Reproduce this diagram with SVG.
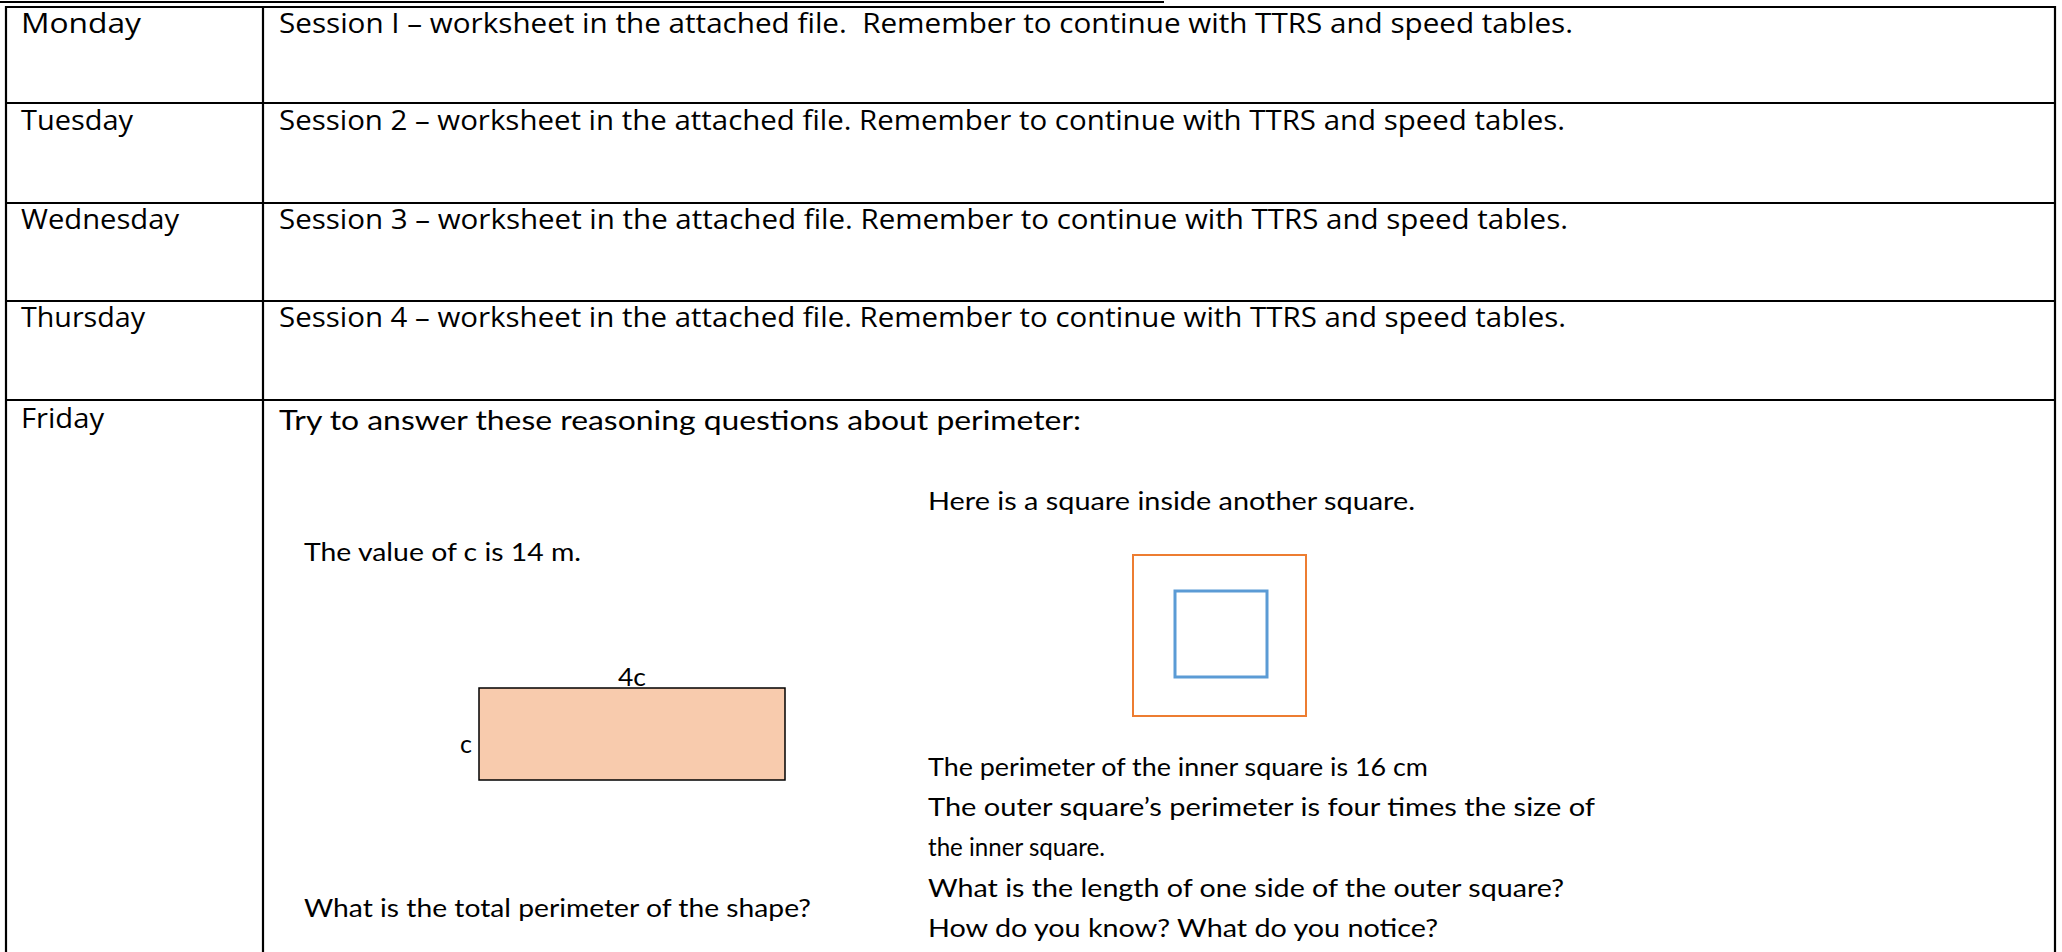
<svg xmlns="http://www.w3.org/2000/svg" width="2062" height="952" viewBox="0 0 2062 952">
<style>
.grid{stroke:#000;stroke-width:2.2;fill:none}
.t1{font-family:"Open Sans","Noto Sans",sans-serif;font-size:27px;fill:#000}
.t2{font-family:Lato,"Open Sans",sans-serif;font-size:26px;fill:#000}
.t3{font-family:Lato,"Open Sans",sans-serif;font-size:25px;fill:#000}
</style>
<rect width="2062" height="952" fill="#fff"/>
<g id="table">
<line class="grid" x1="0" y1="2" x2="1164" y2="2" stroke-width="3"/>
<line class="grid" x1="6" y1="7" x2="2056" y2="7"/>
<line class="grid" x1="6" y1="103" x2="2056" y2="103"/>
<line class="grid" x1="6" y1="203" x2="2056" y2="203"/>
<line class="grid" x1="6" y1="301" x2="2056" y2="301"/>
<line class="grid" x1="6" y1="400" x2="2056" y2="400"/>
<line class="grid" x1="6" y1="6" x2="6" y2="952"/>
<line class="grid" x1="263" y1="6" x2="263" y2="952"/>
<line class="grid" x1="2055" y1="6" x2="2055" y2="952"/>
</g>
<g id="row-monday">
<text class="t1" x="21" y="33" textLength="120" lengthAdjust="spacingAndGlyphs">Monday</text>
<text class="t1" x="279" y="33" xml:space="preserve" textLength="1294" lengthAdjust="spacingAndGlyphs">Session I – worksheet in the attached file.  Remember to continue with TTRS and speed tables.</text>
</g>
<g id="row-tuesday">
<text class="t1" x="21" y="130" textLength="112" lengthAdjust="spacingAndGlyphs">Tuesday</text>
<text class="t1" x="279" y="130" textLength="1286" lengthAdjust="spacingAndGlyphs">Session 2 – worksheet in the attached file. Remember to continue with TTRS and speed tables.</text>
</g>
<g id="row-wednesday">
<text class="t1" x="21" y="229" textLength="158" lengthAdjust="spacingAndGlyphs">Wednesday</text>
<text class="t1" x="279" y="229" textLength="1289" lengthAdjust="spacingAndGlyphs">Session 3 – worksheet in the attached file. Remember to continue with TTRS and speed tables.</text>
</g>
<g id="row-thursday">
<text class="t1" x="21" y="327" textLength="124" lengthAdjust="spacingAndGlyphs">Thursday</text>
<text class="t1" x="279" y="327" textLength="1287" lengthAdjust="spacingAndGlyphs">Session 4 – worksheet in the attached file. Remember to continue with TTRS and speed tables.</text>
</g>
<g id="row-friday">
<text class="t1" x="21" y="428" textLength="83" lengthAdjust="spacingAndGlyphs">Friday</text>
<text class="t2" x="279" y="430" textLength="802" lengthAdjust="spacingAndGlyphs">Try to answer these reasoning questions about perimeter:</text>
</g>
<g id="question-rectangle">
<text class="t3" x="304" y="561" textLength="277" lengthAdjust="spacingAndGlyphs">The value of c is 14 m.</text>
<rect x="479" y="688" width="306" height="92" fill="#F8CBAD" stroke="#000" stroke-width="1.5"/>
<text class="t3" x="618" y="686" textLength="28" lengthAdjust="spacingAndGlyphs">4c</text>
<text class="t3" x="460" y="753">c</text>
<text class="t3" x="304" y="917" textLength="507" lengthAdjust="spacingAndGlyphs">What is the total perimeter of the shape?</text>
</g>
<g id="question-squares">
<text class="t3" x="928" y="510" textLength="487" lengthAdjust="spacingAndGlyphs">Here is a square inside another square.</text>
<rect x="1133" y="555" width="173" height="161" fill="none" stroke="#ED7D31" stroke-width="2"/>
<rect x="1175" y="591" width="92" height="86" fill="none" stroke="#5B9BD5" stroke-width="3"/>
<text class="t3" x="928" y="776" textLength="500" lengthAdjust="spacingAndGlyphs">The perimeter of the inner square is 16 cm</text>
<text class="t3" x="928" y="816" textLength="667" lengthAdjust="spacingAndGlyphs">The outer square’s perimeter is four times the size of</text>
<text class="t3" x="928" y="856" textLength="177" lengthAdjust="spacingAndGlyphs">the inner square.</text>
<text class="t3" x="928" y="897" textLength="636" lengthAdjust="spacingAndGlyphs">What is the length of one side of the outer square?</text>
<text class="t3" x="928" y="937" textLength="510" lengthAdjust="spacingAndGlyphs">How do you know? What do you notice?</text>
</g>
</svg>
